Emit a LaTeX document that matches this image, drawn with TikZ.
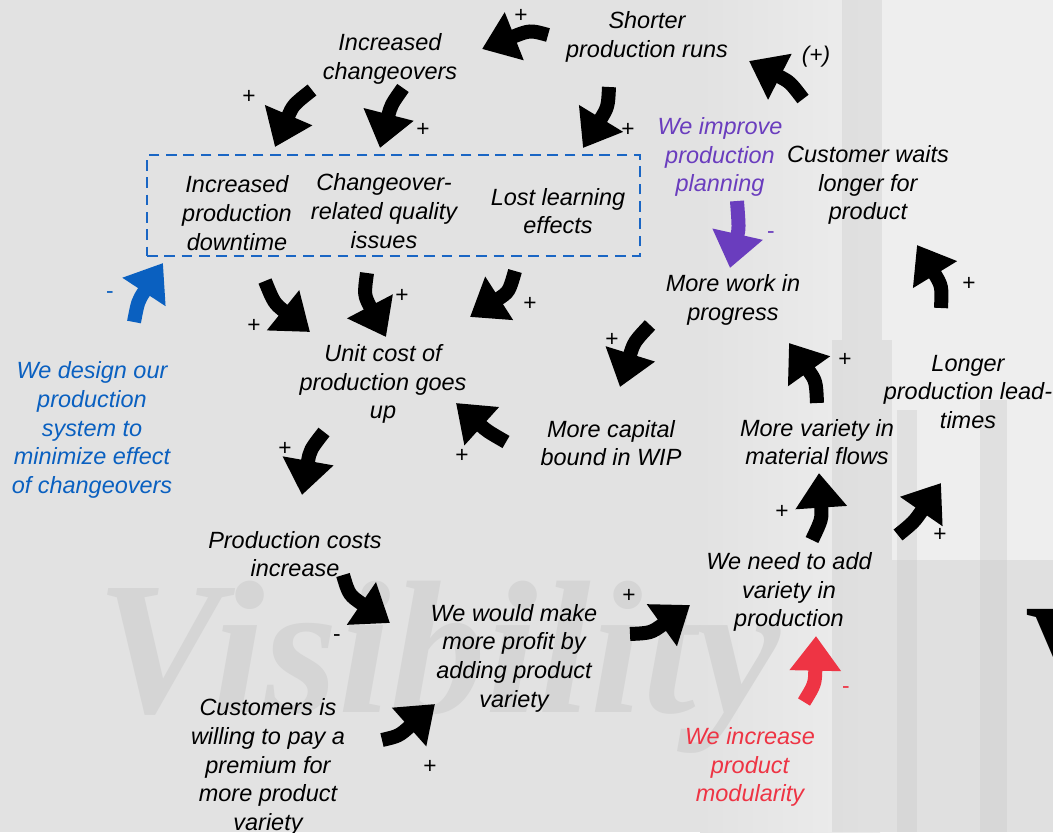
\documentclass[tikz,border=0pt]{standalone}
\usepackage{fontspec}
\setmainfont{Liberation Sans}
\newfontfamily\wmfont{Liberation Serif}
\usetikzlibrary{arrows.meta}
\definecolor{bgbase}{HTML}{E2E2E2}
\definecolor{bgdark}{HTML}{C8C8C8}
\definecolor{bglight}{HTML}{EEEEEE}
\definecolor{wmgray}{HTML}{D5D5D5}
\definecolor{boxblue}{HTML}{1A66C4}
\definecolor{leverblue}{HTML}{0A60C0}
\definecolor{leverpurple}{HTML}{6A3DBE}
\definecolor{leverred}{HTML}{EE3444}
\begin{document}
\begin{tikzpicture}[x=0.75pt,y=-0.75pt,
  txt/.style={font=\fontsize{17.6}{21.5}\selectfont\itshape, align=center, inner sep=0pt, yshift=-1.5pt},
  sign/.style={font=\fontsize{17}{20}\selectfont, inner sep=0pt},
  flow/.style={line width=10.5pt, -{Triangle[width=37pt,length=26pt]}},
  band/.style={fill=bgdark, opacity=0.35},
]
\useasboundingbox (0,0) rectangle (1053,832);
\begin{scope}
\clip (0,0) rectangle (1053,832);
% backdrop: pale factory photo tones
\fill[bgbase] (0,0) rectangle (1053,832);
\shade[left color=bgbase, right color=bglight] (700,0) rectangle (880,832);
\fill[bglight] (880,0) rectangle (1053,832);
\fill[band] (842,0) rectangle (882,340);
\fill[band] (832,340) rectangle (892,832);
\fill[band] (897,410) rectangle (917,832);
\fill[band] (980,400) rectangle (1007,832);
\fill[band] (892,560) rectangle (1053,832);
% watermark lettering
\node[anchor=base west, inner sep=0pt, text=wmgray,
  font=\wmfont\fontsize{142}{142}\selectfont\bfseries\itshape] (wm) at (96,712) {Visibility};
\node[anchor=base west, inner sep=0pt, text=black,
  font=\wmfont\fontsize{125}{125}\selectfont\bfseries] (wmv) at (1025,718) {V};
\end{scope}

% grouped effects of changeovers
\node[draw=boxblue, dash pattern=on 8pt off 5pt, line width=1.5pt,
  minimum width=369.75pt, minimum height=75.75pt, inner sep=0pt] (group) at (393.5,205.5) {};

% variables
\node[txt] (shorter) at (647,35) {Shorter\\production runs};
\node[txt] (incchg) at (390,57) {Increased\\changeovers};
\node[txt] (downtime) at (237,211) {Increased\\production\\downtime};
\node[txt] (quality) at (384,209) {Changeover-\\related quality\\issues};
\node[txt] (learning) at (558,209) {Lost learning\\effects};
\node[txt, text=leverpurple] (planning) at (720,155) {We improve\\production\\planning};
\node[txt] (waits) at (868,183) {Customer waits\\longer for\\product};
\node[txt] (wip) at (733,298) {More work in\\progress};
\node[txt] (unitcost) at (383,382) {Unit cost of\\production goes\\up};
\node[txt, text=leverblue] (design) at (92,428) {We design our\\production\\system to\\minimize effect\\of changeovers};
\node[txt] (capital) at (611,441) {More capital\\bound in WIP};
\node[txt] (flows) at (817,440) {More variety in\\material flows};
\node[txt] (leadtimes) at (968,390) {Longer\\production lead-\\times};
\node[txt] (costs) at (295,552) {Production costs\\increase};
\node[txt] (profit) at (514,656) {We would make\\more profit by\\adding product\\variety};
\node[txt] (needvar) at (789,590) {We need to add\\variety in\\production};
\node[txt] (premium) at (268,765) {Customers is\\willing to pay a\\premium for\\more product\\variety};
\node[txt, text=leverred] (modular) at (750,765) {We increase\\product\\modularity};

% causal links
\draw[flow] (548,35) .. controls (530,30) .. (482,49);
\draw[flow] (312,90) .. controls (293,105) .. (275,147);
\draw[flow] (403,88) .. controls (391,105) .. (380,148);
\draw[flow] (609,87) .. controls (608,107) .. (583,148);
\draw[flow] (803,99) .. controls (790,82) .. (749,61);
\draw[flow, leverpurple] (737,201) .. controls (739,228) .. (730,268);
\draw[flow, leverblue] (134,322) .. controls (138,301) .. (163,263);
\draw[flow] (265,281) .. controls (274,303) .. (310,332);
\draw[flow] (367,273) .. controls (364,295) .. (386,337);
\draw[flow] (515,271) .. controls (509,292) .. (470,317);
\draw[flow] (324,432) .. controls (310,450) .. (302,495);
\draw[flow] (506,442) .. controls (487,431) .. (456,403);
\draw[flow] (650,325) .. controls (634,342) .. (620,387);
\draw[flow] (817,403) .. controls (816,381) .. (789,343);
\draw[flow] (941,308) .. controls (942,286) .. (917,245);
\draw[flow] (812,540) .. controls (822,519) .. (819,473);
\draw[flow] (898,535) .. controls (914,522) .. (941,483);
\draw[flow] (343,575) .. controls (349,595) .. (390,623);
\draw[flow] (382,740) .. controls (399,736) .. (435,704);
\draw[flow] (630,634) .. controls (651,633) .. (690,605);
\draw[flow, leverred] (804,702) .. controls (815,684) .. (816,636);

% polarities
\node[sign] (p1) at (521,16) {+};
\node[sign] (p2) at (249,97) {+};
\node[sign] (p3) at (423,130) {+};
\node[sign] (p4) at (628,130) {+};
\node[sign, font=\fontsize{17}{20}\selectfont\itshape] (p5) at (816,57) {(+)};
\node[sign, text=leverpurple] (m1) at (771,235) {-};
\node[sign, text=leverblue] (m2) at (110,295) {-};
\node[sign] (p6) at (402,296) {+};
\node[sign] (p7) at (254,326) {+};
\node[sign] (p8) at (530,304) {+};
\node[sign] (p9) at (969,284) {+};
\node[sign] (p10) at (612,340) {+};
\node[sign] (p11) at (845,360) {+};
\node[sign] (p12) at (285,449) {+};
\node[sign] (p13) at (462,456) {+};
\node[sign] (p14) at (782,512) {+};
\node[sign] (p15) at (940,535) {+};
\node[sign] (p16) at (629,596) {+};
\node[sign] (m3) at (337,638) {-};
\node[sign] (p17) at (430,767) {+};
\node[sign, text=leverred] (m4) at (846,690) {-};
\end{tikzpicture}
\end{document}
